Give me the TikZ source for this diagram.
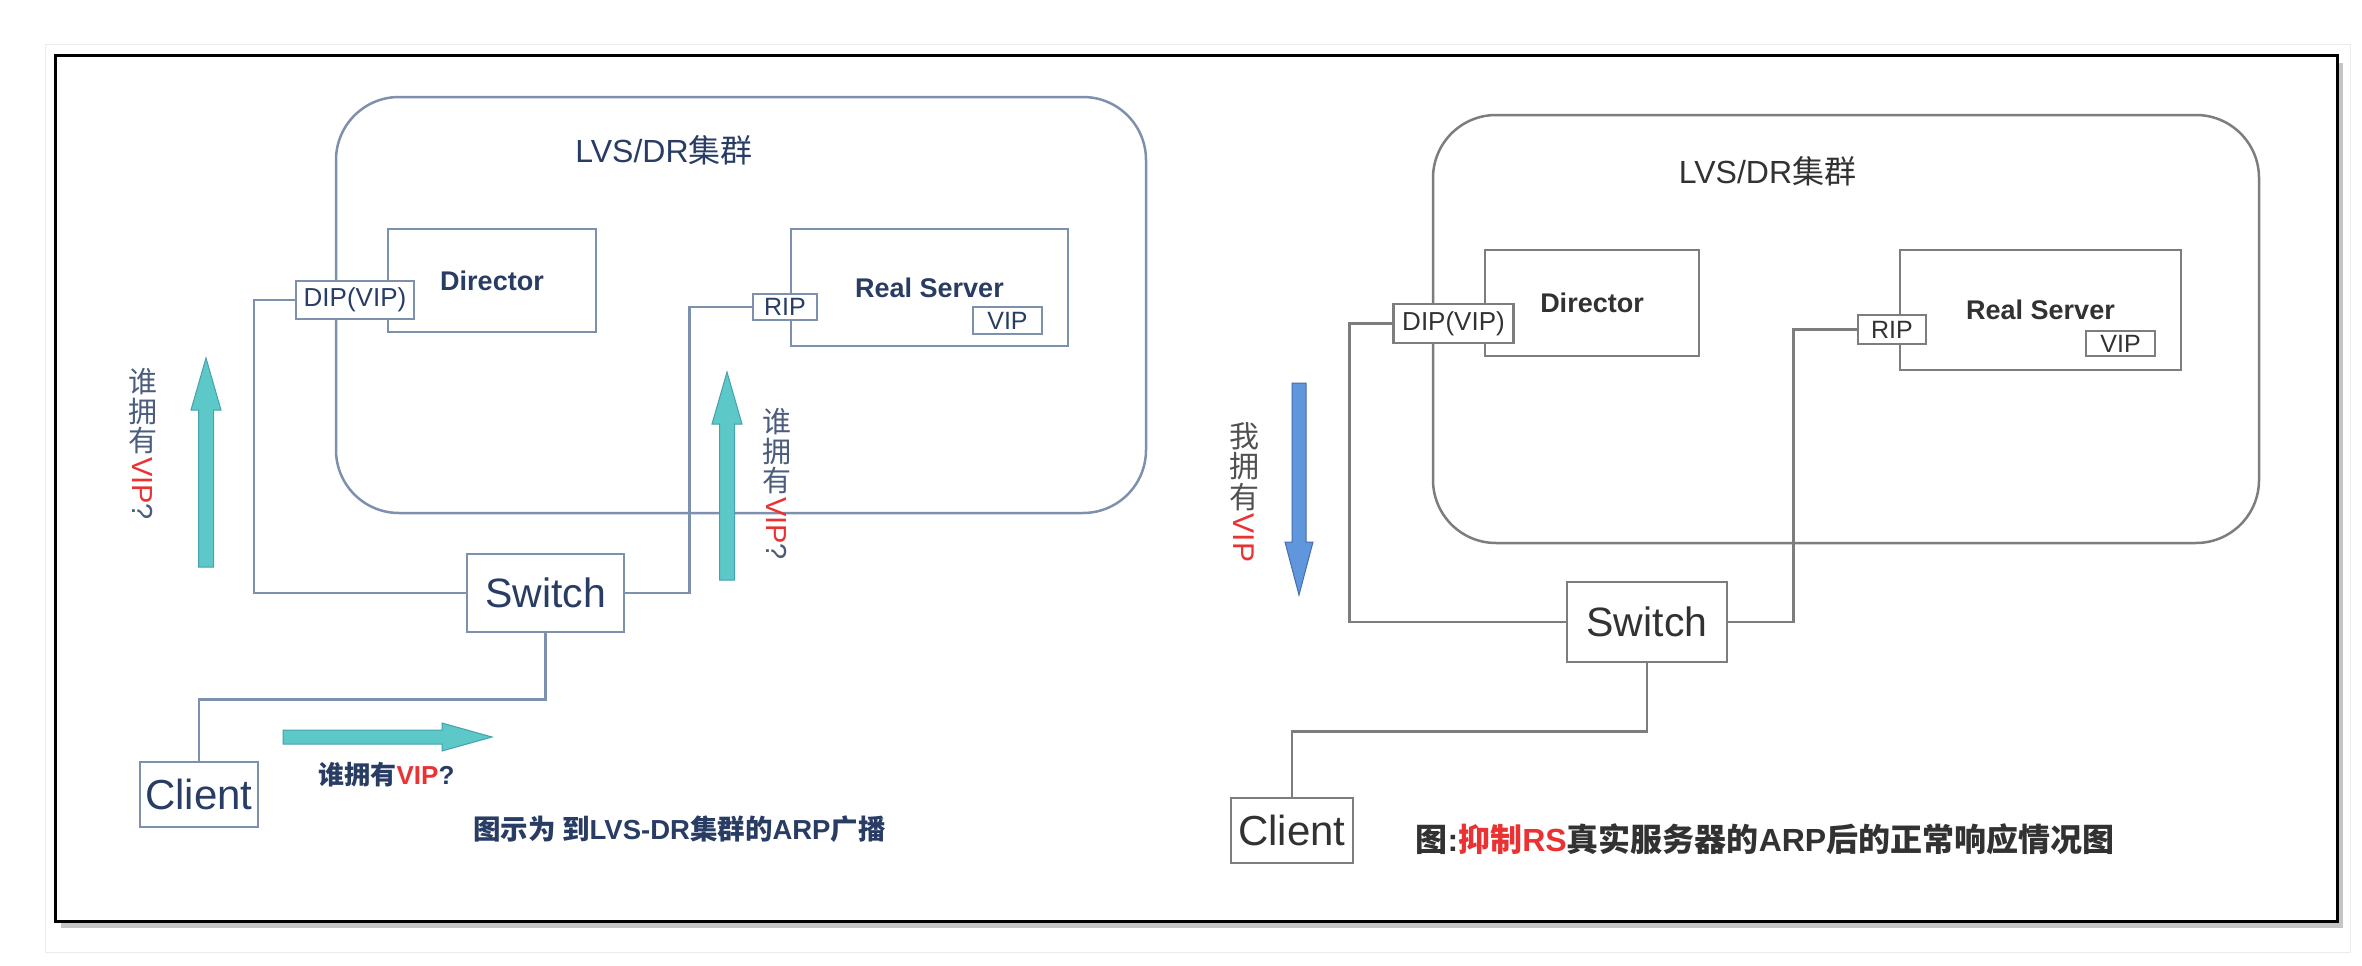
\documentclass[tikz,border=0pt]{standalone}
\usepackage{fontspec}
\setmainfont{Liberation Sans}
\newfontfamily\zhfont{Noto Sans CJK SC}
\newcommand{\zh}[1]{{\zhfont #1}}
\newcommand{\fs}[1]{\fontsize{#1}{#1}\selectfont}
\usetikzlibrary{shadows}
\definecolor{lvsline}{RGB}{125,145,175}
\definecolor{lvstext}{RGB}{40,60,100}
\definecolor{asktext}{RGB}{75,92,125}
\definecolor{grline}{RGB}{125,125,125}
\definecolor{grtext}{RGB}{50,50,50}
\definecolor{vipred}{RGB}{235,50,50}
\definecolor{tealfill}{RGB}{92,200,200}
\definecolor{tealedge}{RGB}{70,160,175}
\definecolor{bluefill}{RGB}{95,150,220}
\definecolor{blueedge}{RGB}{70,110,170}

\begin{document}
\begin{tikzpicture}[x=1pt,y=-1pt,
    lbox/.style={draw=lvsline,line width=2.5pt,fill=white,inner sep=0pt,text=lvstext},
    rbox/.style={draw=grline,line width=2.5pt,fill=white,inner sep=0pt,text=grtext},
    lwire/.style={draw=lvsline,line width=2.5pt},
    rwire/.style={draw=grline,line width=2.5pt},
    tealarrow/.style={fill=tealfill,draw=tealedge,line width=1pt},
    bluearrow/.style={fill=bluefill,draw=blueedge,line width=1pt}]
    \useasboundingbox (0,0) rectangle (2362,966);
    \draw[black!8,line width=1pt] (45,45) rectangle (2350,952);
    \draw[line width=3pt,fill=white,drop shadow={shadow xshift=6pt,shadow yshift=-7pt,fill=black!45,opacity=.5}] (55,56) rectangle (2337,921);

    % left: ARP broadcast
    \node[lbox,fill=none,rounded corners=63pt,minimum width=810pt,minimum height=416pt] (clu1) at (741,305) {};
    \node[text=lvstext,font=\fs{32}] (tit1) at (664,150) {LVS/DR\zh{集群}};
    \node[lbox,minimum width=208pt,minimum height=103pt,font=\fs{27}\bfseries] (dir1) at (492,280.5) {Director};
    \node[lbox,minimum width=118pt,minimum height=38pt,font=\fs{26}] (dip1) at (355,300) {DIP(VIP)};
    \node[lbox,minimum width=277pt,minimum height=117pt,font=\fs{27}\bfseries] (rs1) at (929.5,287.5) {Real Server};
    \node[lbox,minimum width=69pt,minimum height=27pt,font=\fs{25}] (vip1) at (1007.5,320.5) {VIP};
    \node[lbox,minimum width=64pt,minimum height=26pt,font=\fs{25}] (rip1) at (785,307) {RIP};
    \node[lbox,minimum width=157pt,minimum height=78pt,font=\fs{41}] (sw1) at (545.5,593) {Switch};
    \node[lbox,minimum width=118pt,minimum height=65pt,font=\fs{42}] (cl1) at (199,794.5) {Client};
    \draw[lwire] (dip1.west) -- ++(-41,0) |- (sw1.west);
    \draw[lwire] (sw1.east) -- ++(64,0) |- (rip1.west);
    \draw[lwire] (sw1.south) -- ++(0,66) -| (cl1.north);

    \foreach \ax/\at/\ab in {206/358/567,727/372/580}
    \filldraw[tealarrow] (\ax,\at) -- (\ax+15,\at+52) -- (\ax+7.5,\at+52) -- (\ax+7.5,\ab)
        -- (\ax-7.5,\ab) -- (\ax-7.5,\at+52) -- (\ax-15,\at+52) -- cycle;
    \filldraw[tealarrow] (492,737) -- (442,751) -- (442,744) -- (283,744) -- (283,730) -- (442,730) -- (442,723) -- cycle;

    \node[anchor=north,text=asktext,font=\fs{29}\zhfont,inner sep=0pt] (ask1) at (143,368)
        {\shortstack{谁\\拥\\有\\\rotatebox{-90}{\normalfont\textcolor{vipred}{VIP}?}}};
    \node[anchor=north,text=asktext,font=\fs{29}\zhfont,inner sep=0pt] (ask2) at (777,408)
        {\shortstack{谁\\拥\\有\\\rotatebox{-90}{\normalfont\textcolor{vipred}{VIP}?}}};
    \node[text=lvstext,font=\fs{26}\bfseries] (ask3) at (386.5,775) {\zh{谁拥有}\textcolor{vipred}{VIP}?};
    \node[text=lvstext,font=\fs{27.5}\bfseries] (cap1) at (679.5,829) {\zh{图示为 到}LVS-DR\zh{集群的}ARP\zh{广播}};

    % right: RS arp suppressed
    \node[rbox,fill=none,rounded corners=63pt,minimum width=826pt,minimum height=428pt] (clu2) at (1846,329) {};
    \node[text=grtext,font=\fs{32}] (tit2) at (1767.5,171) {LVS/DR\zh{集群}};
    \node[rbox,minimum width=214pt,minimum height=106pt,font=\fs{27}\bfseries] (dir2) at (1592,303) {Director};
    \node[rbox,minimum width=120pt,minimum height=39pt,font=\fs{26}] (dip2) at (1453.5,323.5) {DIP(VIP)};
    \node[rbox,minimum width=281pt,minimum height=120pt,font=\fs{27}\bfseries] (rs2) at (2040.5,310) {Real Server};
    \node[rbox,minimum width=69pt,minimum height=25pt,font=\fs{25}] (vip2) at (2120.5,343.5) {VIP};
    \node[rbox,minimum width=68pt,minimum height=29pt,font=\fs{25}] (rip2) at (1892,329.5) {RIP};
    \node[rbox,minimum width=160pt,minimum height=80pt,font=\fs{41}] (sw2) at (1647,622) {Switch};
    \node[rbox,minimum width=122pt,minimum height=65pt,font=\fs{42}] (cl2) at (1292,830.5) {Client};
    \draw[rwire] (dip2.west) -- ++(-43,0) |- (sw2.west);
    \draw[rwire] (sw2.east) -- ++(65,0) |- (rip2.west);
    \draw[rwire] (sw2.south) -- ++(0,68) -| (cl2.north);

    \filldraw[bluearrow] (1299,595) -- (1313,542) -- (1306,542) -- (1306,383) -- (1292,383) -- (1292,542) -- (1285,542) -- cycle;
    \node[anchor=north,text=grtext!85,font=\fs{30}\zhfont,inner sep=0pt] (ans) at (1244,422)
        {\shortstack{我\\拥\\有\\\rotatebox{-90}{\normalfont\textcolor{vipred}{VIP}}}};
    \node[text=grtext,font=\fs{32}\bfseries] (cap2) at (1765,839)
        {\zh{图}:\textcolor{vipred}{\zh{抑制}RS}\zh{真实服务器的}ARP\zh{后的正常响应情况图}};
\end{tikzpicture}
\end{document}
